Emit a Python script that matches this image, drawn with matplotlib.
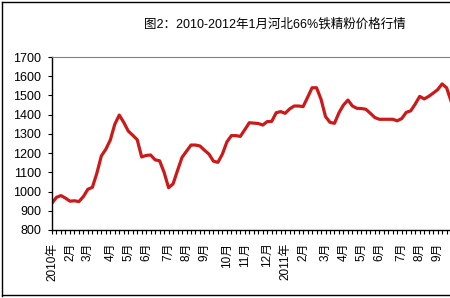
import matplotlib
matplotlib.use("Agg")
import matplotlib.pyplot as plt
from matplotlib.lines import Line2D
import numpy as np

plt.rcParams['font.family'] = ['Liberation Sans', 'Noto Sans CJK SC', 'DejaVu Sans']

# weekly price (week 0 = first week of Jan 2010)
prices = [940, 970, 979, 966, 950, 952, 948, 974, 1012, 1022,
          1095, 1185, 1220, 1268, 1350, 1398, 1360, 1315, 1293, 1270,
          1180, 1188, 1190, 1165, 1160, 1100, 1020, 1040, 1110, 1178,
          1210, 1242, 1242, 1237, 1215, 1195, 1158, 1152, 1195, 1258,
          1291, 1291, 1287, 1322, 1358, 1356, 1354, 1346, 1364, 1365,
          1410, 1416, 1407, 1430, 1445, 1445, 1442, 1490, 1540, 1540,
          1480, 1390, 1360, 1355, 1410, 1450, 1476, 1445, 1433, 1432,
          1428, 1407, 1385, 1376, 1376, 1376, 1376, 1368, 1380, 1412,
          1420, 1455, 1495, 1482, 1495, 1512, 1530, 1560, 1540, 1470,
          1440]
weeks = np.arange(len(prices))

month_ticks = [0, 4, 8, 13, 17, 21, 26, 30, 34, 39, 43, 48,
               52, 56, 61, 65, 69, 73, 78, 82, 86]
month_labels = ['2010年', '2月', '3月', '4月', '5月', '6月', '7月', '8月', '9月',
                '10月', '11月', '12月', '2011年', '2月', '3月', '4月', '5月',
                '6月', '7月', '8月', '9月']

title = '图2：2010-2012年1月河北66%铁精粉价格行情'

W, H = 450, 298
fig = plt.figure(figsize=(W / 100, H / 100), dpi=100)

n_weeks = 108
px_week = 4.484
ax = fig.add_axes([52 / W, (H - 230) / H, n_weeks * px_week / W, 173 / H])
ax.plot(weeks, prices, color='#cc1a1a', lw=2.3, solid_joinstyle='round')

ax.set_xlim(0, n_weeks)
ax.set_ylim(800, 1700)
ax.set_yticks(range(800, 1701, 100))
ax.tick_params(axis='y', labelsize=9, length=3, width=0.8, pad=5)

ax.set_xticks(month_ticks)
ax.set_xticklabels(month_labels, rotation=90, fontsize=8.5)
ax.set_xticks(np.arange(0, n_weeks + 1), minor=True)
ax.tick_params(axis='x', which='both', length=3, width=0.8, pad=6)

ax.spines['top'].set_color('#808080')
ax.spines['right'].set_visible(False)
for s in ('left', 'bottom'):
    ax.spines[s].set_linewidth(1.0)

fig.text(275 / W, 1 - 25 / H, title, ha='center', va='center', fontsize=9)

# outer chart border (right side cut off)
fig.add_artist(Line2D([2 / W, 2 / W], [2 / H, 1 - 2 / H], color='black', lw=1))
fig.add_artist(Line2D([2 / W, 1], [1 - 2 / H, 1 - 2 / H], color='black', lw=1))
fig.add_artist(Line2D([2 / W, 1], [3 / H, 3 / H], color='black', lw=1))

fig.savefig('out.png', dpi=100)
